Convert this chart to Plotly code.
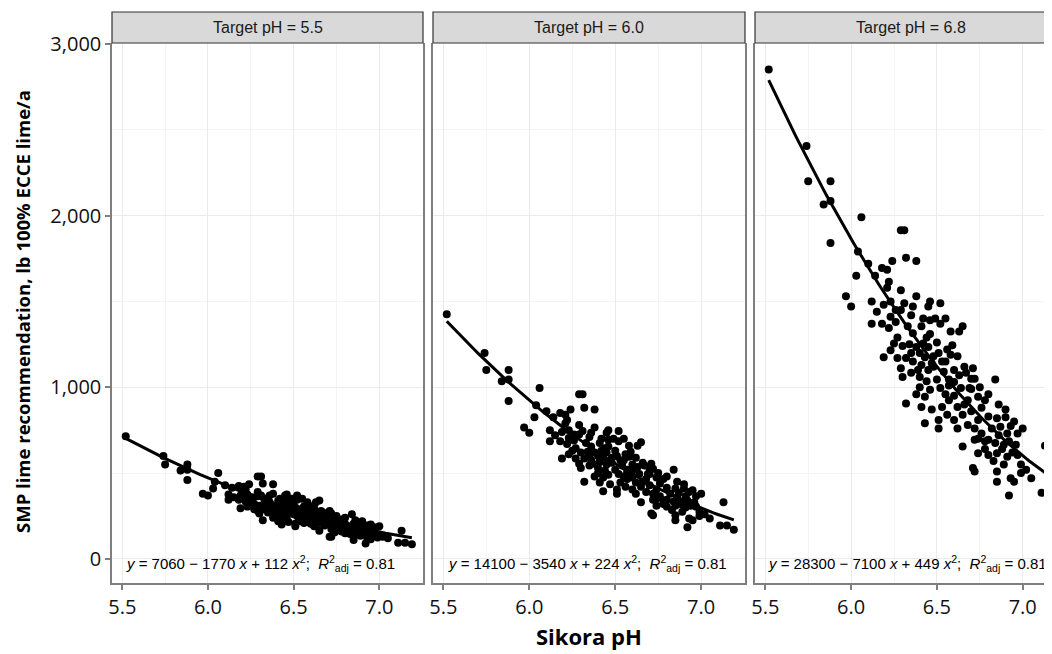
import numpy as np
import plotly.graph_objects as go

# ---------------- data ----------------
facet_labels = ["Target pH = 5.5", "Target pH = 6.0", "Target pH = 6.8"]
eq_labels = [
    "<i>y</i> = 7060 \u2212 1770 <i>x</i> + 112 <i>x</i><sup>2</sup>;  <i>R</i><sup>2</sup><sub>adj</sub> = 0.81",
    "<i>y</i> = 14100 \u2212 3540 <i>x</i> + 224 <i>x</i><sup>2</sup>;  <i>R</i><sup>2</sup><sub>adj</sub> = 0.81",
    "<i>y</i> = 28300 \u2212 7100 <i>x</i> + 449 <i>x</i><sup>2</sup>;  <i>R</i><sup>2</sup><sub>adj</sub> = 0.81",
]
# quadratic fit coefficients printed on each panel: [x^2, x, intercept]
fit_coefficients = [
    [112, -1770, 7060],
    [224, -3540, 14100],
    [449, -7100, 28300],
]
x_tick_vals = [5.5, 6.0, 6.5, 7.0]
x_tick_text = ["5.5", "6.0", "6.5", "7.0"]
y_tick_vals = [0, 1000, 2000, 3000]
y_tick_text = ["0", "1,000", "2,000", "3,000"]

sikora_ph = [
    5.52, 5.74, 5.75, 5.88, 5.84, 5.88, 6.06, 5.88, 6.29, 6.31, 6.04, 6.10, 6.24, 6.32, 6.38, 6.18,
    6.21, 6.14, 6.03, 6.22, 6.21, 6.29, 5.97, 6.38, 6.00, 6.12, 6.12, 6.18, 6.22, 6.23, 6.26, 6.19,
    6.23, 6.29, 6.31, 6.36, 6.33, 6.36, 6.35, 6.41, 6.45, 6.46, 6.52, 6.46, 6.49, 6.52, 6.46, 6.42,
    6.38, 6.25, 6.23, 6.35, 6.45, 6.51, 6.58, 6.63, 6.65, 6.59, 6.58, 6.19, 6.27, 6.32, 6.29, 6.30,
    6.35, 6.41, 6.40, 6.45, 6.48, 6.54, 6.44, 6.50, 6.46, 6.52, 6.57, 6.63, 6.67, 6.71, 6.72, 6.69,
    6.64, 6.84, 6.32, 6.41, 6.43, 6.53, 6.57, 6.62, 6.68, 6.74, 6.78, 6.56, 6.51, 6.43, 6.51, 6.60,
    6.65, 6.68, 6.74, 6.80, 6.85, 6.90, 6.87, 6.93, 6.97, 6.91, 6.76, 6.72, 6.80, 6.84, 6.65, 6.92,
    6.96, 7.13, 6.78, 6.89, 6.74, 6.80, 6.85, 6.91, 6.97, 6.71, 6.72, 6.85, 6.89, 6.99, 6.85, 6.93,
    6.95, 6.92, 7.11, 7.15, 7.19, 6.99, 6.40, 6.36, 6.48, 6.55, 6.60, 6.55, 6.60, 6.66, 6.70, 6.62,
    6.72, 6.76, 6.82, 6.86, 6.78, 6.88, 6.94, 6.70, 6.47, 6.38, 6.27, 6.30, 6.43, 6.57, 6.74, 6.83,
    7.02, 7.05, 6.26, 6.15, 6.40, 6.44, 6.50, 6.53, 6.56, 6.47, 6.39, 6.34, 6.62, 6.66, 6.60, 6.70,
    6.75, 6.80, 6.86, 6.90, 6.95, 7.00, 6.42, 6.55,
]

lime_target_55 = [
    715, 600, 550, 550, 515, 520, 500, 460, 480, 480, 450, 430, 435, 440, 435, 425,
    420, 415, 410, 405, 395, 390, 380, 380, 370, 375, 345, 345, 335, 355, 345, 370,
    375, 365, 370, 370, 340, 330, 355, 340, 370, 375, 370, 350, 350, 345, 330, 315,
    310, 315, 305, 300, 310, 300, 330, 330, 340, 310, 295, 295, 290, 290, 280, 265,
    270, 285, 265, 275, 280, 275, 260, 260, 245, 250, 260, 270, 270, 280, 265, 250,
    250, 260, 225, 220, 235, 220, 230, 220, 230, 235, 230, 210, 205, 200, 190, 205,
    210, 195, 205, 205, 205, 205, 195, 195, 185, 185, 185, 175, 175, 170, 165, 170,
    165, 165, 170, 165, 155, 150, 155, 150, 150, 130, 130, 130, 135, 135, 110, 120,
    115, 90, 95, 95, 85, 125, 250, 290, 295, 290, 275, 240, 240, 225, 215, 190,
    190, 220, 190, 180, 160, 160, 155, 245, 215, 240, 320, 310, 295, 255, 175, 145,
    130, 120, 360, 360, 300, 320, 315, 290, 305, 285, 275, 310, 295, 280, 260, 265,
    250, 240, 225, 220, 200, 190, 350, 350,
]

lime_target_60 = [
    1425, 1200, 1100, 1100, 1035, 1045, 995, 920, 960, 960, 895, 860, 870, 880, 870, 850,
    840, 825, 825, 810, 790, 780, 765, 765, 735, 750, 685, 685, 670, 705, 690, 740,
    750, 725, 745, 735, 675, 655, 710, 675, 735, 750, 745, 695, 700, 685, 655, 630,
    620, 630, 610, 600, 620, 600, 660, 660, 680, 625, 595, 585, 585, 585, 555, 530,
    545, 565, 530, 550, 560, 545, 515, 520, 490, 495, 520, 535, 545, 555, 525, 495,
    495, 520, 450, 445, 475, 445, 465, 445, 465, 475, 465, 420, 405, 395, 380, 405,
    420, 390, 405, 415, 410, 410, 385, 390, 365, 365, 365, 345, 345, 335, 330, 340,
    330, 330, 340, 335, 310, 305, 310, 300, 305, 265, 255, 255, 275, 275, 225, 235,
    225, 185, 195, 195, 170, 250, 500, 575, 590, 575, 550, 480, 475, 450, 430, 380,
    380, 440, 380, 360, 320, 320, 310, 495, 435, 480, 645, 620, 590, 505, 350, 285,
    260, 235, 725, 720, 600, 645, 630, 575, 610, 570, 550, 625, 590, 560, 515, 525,
    500, 480, 450, 435, 400, 380, 700, 700,
]

lime_target_68 = [
    2850, 2405, 2200, 2200, 2065, 2085, 1990, 1840, 1915, 1915, 1790, 1720, 1735, 1755, 1735, 1695,
    1685, 1650, 1650, 1615, 1580, 1565, 1530, 1530, 1470, 1500, 1370, 1370, 1345, 1410, 1380, 1480,
    1500, 1450, 1490, 1470, 1355, 1315, 1420, 1355, 1470, 1500, 1490, 1390, 1400, 1370, 1310, 1255,
    1235, 1255, 1215, 1200, 1235, 1200, 1325, 1325, 1355, 1245, 1190, 1175, 1170, 1170, 1110, 1060,
    1085, 1130, 1060, 1100, 1120, 1090, 1035, 1045, 985, 995, 1045, 1070, 1085, 1110, 1050, 995,
    995, 1045, 905, 885, 945, 885, 925, 885, 925, 945, 925, 840, 810, 790, 760, 810,
    840, 780, 810, 830, 820, 825, 770, 775, 730, 730, 730, 695, 695, 675, 655, 685,
    665, 660, 685, 665, 615, 605, 615, 595, 605, 530, 510, 510, 550, 550, 450, 470,
    450, 370, 385, 385, 340, 500, 1000, 1150, 1180, 1150, 1100, 960, 950, 900, 860, 760,
    760, 880, 760, 720, 640, 640, 620, 990, 870, 960, 1290, 1240, 1175, 1010, 700, 570,
    520, 470, 1450, 1440, 1200, 1290, 1260, 1150, 1220, 1140, 1100, 1250, 1180, 1120, 1030, 1050,
    1000, 960, 900, 870, 800, 760, 1400, 1400,
]

panel_values = [lime_target_55, lime_target_60, lime_target_68]

# ---------------- layout geometry (page body has an 8px margin) ----------------
OFF = 8
W, H = 1052 - OFF, 654 - OFF
ML, MR, MT, MB = 112 - OFF, 0, 43 - OFF, 646 - (583 - OFF)
PW = W - ML - MR
PH = H - MT - MB
panel_px = [(112 - OFF, 423 - OFF), (433 - OFF, 745 - OFF), (755 - OFF, 1052 - OFF)]
domains = [[(a - ML) / PW, (b - ML) / PW] for a, b in panel_px]
x_ranges = [[5.44, 7.255], [5.44, 7.255], [5.44, 5.44 + 297 / 171.6]]
y_range = [-140, 3005]


def px_x(p):
    return (p - OFF - ML) / PW


def px_y(p):
    return (H - MB - (p - OFF)) / PH


grid_major = "#EBEBEB"
grid_minor = "#F4F4F4"
border_col = "#7F7F7F"

fig = go.Figure()

for i in range(3):
    xs = np.array(sikora_ph, dtype=float)
    ys = np.array(panel_values[i], dtype=float)
    xa = "x" if i == 0 else f"x{i+1}"
    ya = "y" if i == 0 else f"y{i+1}"
    fig.add_trace(go.Scatter(
        x=xs, y=ys, mode="markers", xaxis=xa, yaxis=ya,
        marker=dict(color="black", size=8, line=dict(width=0)),
        showlegend=False, hoverinfo="x+y",
    ))
    xl = np.linspace(xs.min(), xs.max(), 100)
    fig.add_trace(go.Scatter(
        x=xl, y=np.polyval(fit_coefficients[i], xl), mode="lines", xaxis=xa, yaxis=ya,
        line=dict(color="black", width=3), showlegend=False, hoverinfo="skip",
    ))

layout = dict(
    width=W, height=H,
    margin=dict(l=ML, r=MR, t=MT, b=MB, pad=0),
    paper_bgcolor="white", plot_bgcolor="white",
    showlegend=False,
    font=dict(family="Open Sans", color="black"),
)

for i in range(3):
    xk = "xaxis" if i == 0 else f"xaxis{i+1}"
    yk = "yaxis" if i == 0 else f"yaxis{i+1}"
    ya = "y" if i == 0 else f"y{i+1}"
    xa = "x" if i == 0 else f"x{i+1}"
    layout[xk] = dict(
        domain=domains[i], range=x_ranges[i], anchor=ya,
        tickvals=x_tick_vals, ticktext=x_tick_text,
        ticks="outside", ticklen=5, tickwidth=2, tickcolor=border_col,
        showline=True, linecolor=border_col, linewidth=1.5, mirror=False,
        showgrid=True, gridcolor=grid_major, gridwidth=1.4,
        minor=dict(tickvals=[5.25, 5.75, 6.25, 6.75, 7.25], showgrid=True,
                   gridcolor=grid_minor, gridwidth=0.8, ticks=""),
        zeroline=False,
        tickfont=dict(family="Open Sans", size=20, color="#111111"),
        fixedrange=True,
    )
    ydict = dict(
        domain=[0, 1], range=y_range, anchor=xa,
        tickvals=y_tick_vals, ticktext=y_tick_text,
        showline=True, linecolor=border_col, linewidth=1.5,
        mirror=(i < 2),
        showgrid=True, gridcolor=grid_major, gridwidth=1.4,
        minor=dict(tickvals=[500, 1500, 2500], showgrid=True,
                   gridcolor=grid_minor, gridwidth=0.8, ticks=""),
        zeroline=False, fixedrange=True,
        tickfont=dict(family="Open Sans", size=20, color="#111111"),
    )
    if i == 0:
        ydict.update(ticks="outside", ticklen=5, tickwidth=2, tickcolor=border_col,
                     showticklabels=True)
    else:
        ydict.update(ticks="", showticklabels=False, matches="y")
    layout[yk] = ydict

fig.update_layout(**layout)

# strips
strip_top = px_y(12)
shapes = []
annotations = []
strip_centers_px = [(112 + 423) / 2, (433 + 745) / 2, (755 + 1067) / 2]
for i in range(3):
    x0, x1 = domains[i]
    shapes.append(dict(type="rect", xref="paper", yref="paper",
                       x0=x0, x1=x1 if i < 2 else 1.02, y0=1.0, y1=strip_top,
                       fillcolor="#D9D9D9", line=dict(color="#333333", width=1.2),
                       layer="above"))
    annotations.append(dict(xref="paper", yref="paper", x=px_x(strip_centers_px[i]),
                            y=(1.0 + strip_top) / 2, text=facet_labels[i], showarrow=False,
                            xanchor="center", yanchor="middle",
                            font=dict(family="Liberation Sans", size=16, color="#1A1A1A")))

eq_left_px = [124, 446, 766]
for i in range(3):
    annotations.append(dict(xref="paper", yref="paper", x=px_x(eq_left_px[i]),
                            y=px_y(563), text=eq_labels[i], showarrow=False,
                            xanchor="left", yanchor="middle",
                            font=dict(family="Liberation Sans", size=15, color="black")))

annotations.append(dict(xref="paper", yref="paper", x=px_x(589), y=px_y(636),
                        text="<b>Sikora pH</b>", showarrow=False, xanchor="center", yanchor="middle",
                        font=dict(family="Open Sans", size=22, color="black")))
annotations.append(dict(xref="paper", yref="paper", x=px_x(22), y=px_y(312),
                        text="<b>SMP lime recommendation, lb 100% ECCE lime/a</b>", showarrow=False,
                        textangle=-90, xanchor="center", yanchor="middle",
                        font=dict(family="Open Sans", size=18.5, color="black")))

fig.update_layout(shapes=shapes, annotations=annotations)

fig.write_html("out.html")
